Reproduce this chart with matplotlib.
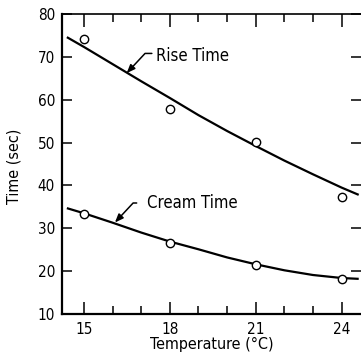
import numpy as np
import matplotlib
matplotlib.use('Agg')
import matplotlib.pyplot as plt

# observed points
temp = [15, 18, 21, 24]
rise_obs = [74.2, 57.9, 50.2, 37.3]
cream_obs = [33.4, 26.6, 21.4, 18.2]

# fitted curves
curve_t = [14.4, 15, 16, 17, 18, 19, 20, 21, 22, 23, 24, 24.6]
rise_fit = [74.6, 72.3, 68.3, 64.3, 60.4, 56.4, 52.7, 49.2, 45.8, 42.6, 39.5, 37.8]
cream_fit = [34.7, 33.5, 31.3, 29.0, 26.9, 25.1, 23.2, 21.6, 20.2, 19.1, 18.4, 18.2]

x_ticks = [15, 18, 21, 24]
x_minor = [16, 17, 19, 20, 22, 23]
y_ticks = [10, 20, 30, 40, 50, 60, 70, 80]

plt.rcParams['font.family'] = ['DejaVu Sans']
plt.rcParams['font.stretch'] = 'condensed'

fig = plt.figure(figsize=(3.61, 3.63), dpi=100)
ax = fig.add_axes([62 / 361, 49 / 363, 299 / 361, 300 / 363])

ax.plot(curve_t, rise_fit, color='black', lw=1.6, solid_capstyle='butt')
ax.plot(curve_t, cream_fit, color='black', lw=1.6, solid_capstyle='butt')
ax.plot(temp, rise_obs, 'o', ms=6, mfc='white', mec='black', mew=1.0)
ax.plot(temp, cream_obs, 'o', ms=6, mfc='white', mec='black', mew=1.0)

ax.set_xlim(14.23, 24.68)
ax.set_ylim(10, 80)

ax.set_xticks(x_ticks)
ax.set_xticks(x_minor, minor=True)
ax.set_yticks(y_ticks)

ax.spines['right'].set_visible(False)
ax.spines['left'].set_linewidth(1.6)
ax.spines['bottom'].set_linewidth(1.6)
ax.spines['top'].set_linewidth(1.2)

ax.tick_params(axis='x', which='major', direction='in', top=True, length=9,
               width=1.1, labelsize=11, pad=6)
ax.tick_params(axis='x', which='minor', direction='in', top=True, length=6, width=1.1)
ax.tick_params(axis='y', which='major', direction='in', right=True, length=7,
               width=1.1, labelsize=11, pad=5)

ax.set_xlabel('Temperature (°C)', fontsize=11.5)
ax.set_ylabel('Time (sec)', fontsize=11.5)
ax.xaxis.set_label_coords(0.5, -0.075)
ax.yaxis.set_label_coords(-0.134, 0.493)

arrow = dict(arrowstyle='-|>,head_length=0.5,head_width=0.2', color='black', lw=1.1,
             shrinkA=0, shrinkB=0, connectionstyle='angle,angleA=0,angleB=47,rad=0')
ax.annotate('', xy=(16.49, 66.2), xytext=(17.37, 70.8), arrowprops=arrow)
ax.text(17.5, 70.3, 'Rise Time', fontsize=12, va='center', ha='left')
ax.annotate('', xy=(16.08, 31.35), xytext=(16.84, 35.9), arrowprops=arrow)
ax.text(17.19, 35.9, 'Cream Time', fontsize=12, va='center', ha='left')

fig.savefig('out.png', dpi=100)
